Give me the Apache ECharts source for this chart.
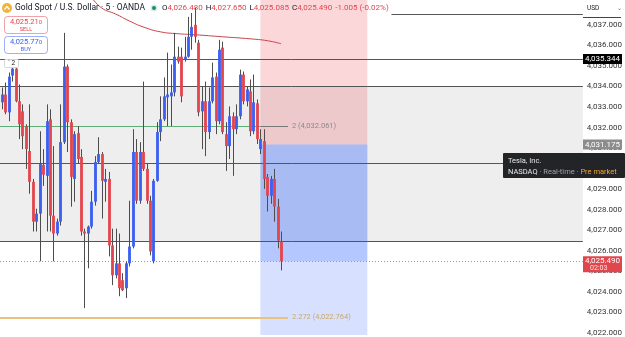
<!DOCTYPE html>
<html>
<head>
<meta charset="utf-8">
<title>Gold Spot / U.S. Dollar · 5 · OANDA</title>
<script src="https://cdn.jsdelivr.net/npm/echarts@6/dist/echarts.min.js"></script>
<style>
  html, body { margin: 0; padding: 0; background: #fff; }
  #chart { width: 625px; height: 337px; }
</style>
</head>
<body>
<div id="chart"></div>
<script>
// K 线数据 (5 分钟), 每根蜡烛按顺序
const openPrices = [
  4033.23, 4033.61, 4032.74, 4034.53, 4034.87, 4033.28, 4032.79, 4032.07, 4030.86, 4029.36,
  4027.42, 4027.81, 4030.18, 4029.65, 4032.40, 4027.71, 4026.84, 4027.42, 4031.29, 4034.97,
  4032.26, 4029.50, 4031.73, 4030.57, 4026.94, 4026.84, 4027.18, 4028.39, 4030.32, 4030.71,
  4029.36, 4029.50, 4026.26, 4024.81, 4025.39, 4024.57, 4024.18, 4025.39, 4026.21, 4030.81,
  4028.44, 4030.81, 4029.99, 4028.44, 4025.49, 4029.41, 4031.78, 4032.40, 4033.47, 4033.52,
  4033.71, 4035.45, 4035.45, 4035.31, 4035.45, 4036.42, 4037.00, 4036.13, 4032.79, 4033.28,
  4031.78, 4033.28, 4034.48, 4032.31, 4035.89, 4031.68, 4031.10, 4032.55, 4031.92, 4032.55,
  4034.58, 4033.28, 4033.76, 4031.82, 4033.18, 4030.95, 4031.34, 4029.60, 4028.68, 4029.50,
  4028.15, 4026.45
];
const closePrices = [
  4033.61, 4032.74, 4034.48, 4034.87, 4033.28, 4032.16, 4031.58, 4030.95, 4029.36, 4027.42,
  4027.81, 4030.23, 4029.70, 4032.31, 4027.71, 4026.84, 4027.42, 4031.29, 4034.97, 4032.26,
  4029.60, 4031.68, 4030.47, 4026.94, 4026.84, 4027.18, 4028.39, 4030.32, 4030.71, 4029.41,
  4029.50, 4026.26, 4024.81, 4025.39, 4024.18, 4024.08, 4025.39, 4026.21, 4030.81, 4028.44,
  4030.81, 4029.99, 4028.44, 4025.97, 4029.41, 4031.78, 4032.40, 4033.52, 4033.61, 4033.71,
  4035.45, 4035.21, 4033.52, 4035.45, 4036.42, 4036.90, 4036.42, 4032.74, 4033.28, 4031.78,
  4033.28, 4034.44, 4032.31, 4035.79, 4031.78, 4031.10, 4032.55, 4031.92, 4032.55, 4034.58,
  4033.28, 4033.86, 4031.82, 4033.23, 4031.44, 4031.44, 4029.50, 4028.68, 4029.50, 4028.15,
  4026.50, 4025.49
];
const lowPrices = [
  4032.89, 4032.65, 4032.31, 4034.24, 4033.23, 4031.44, 4030.95, 4029.99, 4028.78, 4026.94,
  4026.94, 4025.49, 4029.16, 4026.94, 4026.94, 4025.49, 4026.74, 4027.23, 4031.20, 4030.81,
  4028.15, 4028.39, 4030.23, 4026.74, 4023.21, 4025.15, 4027.08, 4028.20, 4030.23, 4027.57,
  4028.39, 4025.73, 4024.33, 4024.66, 4023.79, 4024.04, 4023.70, 4025.24, 4026.12, 4028.29,
  4028.29, 4029.89, 4028.29, 4025.78, 4025.39, 4029.36, 4031.34, 4032.31, 4032.07, 4032.07,
  4033.52, 4035.11, 4033.23, 4035.21, 4035.40, 4035.79, 4036.13, 4032.55, 4030.95, 4030.61,
  4031.44, 4033.18, 4031.68, 4032.16, 4031.68, 4029.89, 4030.47, 4029.65, 4031.68, 4032.40,
  4033.13, 4033.03, 4031.58, 4031.68, 4031.20, 4030.71, 4029.02, 4027.91, 4028.29, 4027.42,
  4026.12, 4025.05
];
const highPrices = [
  4033.95, 4034.19, 4034.68, 4034.97, 4034.92, 4034.10, 4033.13, 4032.16, 4033.13, 4029.50,
  4028.05, 4031.82, 4030.95, 4033.13, 4032.89, 4031.10, 4027.57, 4033.13, 4036.61, 4035.07,
  4032.40, 4031.82, 4032.07, 4030.95, 4027.08, 4027.23, 4028.92, 4030.61, 4031.53, 4030.81,
  4029.99, 4029.84, 4027.08, 4027.08, 4026.84, 4024.91, 4025.49, 4028.44, 4031.92, 4031.44,
  4031.29, 4034.24, 4030.23, 4028.68, 4029.50, 4032.26, 4033.52, 4034.44, 4035.65, 4035.07,
  4036.61, 4035.94, 4035.89, 4036.42, 4037.39, 4037.58, 4037.82, 4036.27, 4034.00, 4034.24,
  4033.95, 4035.16, 4034.68, 4036.27, 4036.18, 4032.26, 4033.03, 4032.74, 4033.13, 4034.82,
  4034.73, 4034.00, 4034.34, 4034.58, 4033.37, 4031.92, 4031.92, 4029.74, 4029.65, 4029.99,
  4028.53, 4026.94
];

// 价格轴刻度
const priceTicks = [4022, 4023, 4024, 4025, 4026, 4027, 4028, 4029, 4030, 4031, 4032, 4033, 4034, 4035, 4036, 4037];

// 均线 (按蜡烛序号取点)
const maSlots = [26, 29, 33, 37, 41, 46, 51, 56, 64, 72, 77, 81];
const maValues = [4038.35, 4037.82, 4037.53, 4037.19, 4036.90, 4036.66, 4036.57, 4036.52, 4036.42, 4036.32, 4036.23, 4036.08];

// 水平线与区域
const levelLines = [4035.344, 4034.0, 4030.25, 4026.48];
const rayLevel = 4037.53;
const bandTop = 4034.0;
const bandBottom = 4026.48;
const fibNames = ['2', '2.272'];
const fibPrices = [4032.061, 4022.764];

// 空单仓位工具
const entryPrice = 4031.175;
const lastPrice = 4025.49;
const positionSlots = [75, 106];

const axisMin = 4021.9;
const axisMax = 4038.21;
const slotCount = 169;

const RED = '#e2464d';
const BLUE = '#3b5ff0';
const FONT = 'Roboto, "Noto Sans", sans-serif';

const fmt = v => v.toLocaleString('en-US', { minimumFractionDigits: 3, maximumFractionDigits: 3 });

const candleData = openPrices.map((o, i) => [i, o, closePrices[i], lowPrices[i], highPrices[i]]);
const maData = maSlots.map((s, i) => [s, maValues[i]]);

const chart = echarts.init(document.getElementById('chart'));

const option = {
  animation: false,
  textStyle: { fontFamily: FONT },
  grid: { left: 0, right: 42, top: 0, bottom: 0 },
  xAxis: {
    type: 'value',
    min: -0.5,
    max: slotCount - 0.5,
    show: false
  },
  yAxis: {
    type: 'value',
    position: 'right',
    min: axisMin,
    max: axisMax,
    axisLine: { show: false },
    axisTick: { show: false },
    splitLine: { show: false },
    axisLabel: {
      customValues: priceTicks,
      margin: 4,
      fontSize: 8,
      color: '#333',
      formatter: v => fmt(v)
    }
  },
  series: [
    // 灰色区间
    {
      type: 'line',
      data: [],
      z: 1,
      markArea: {
        silent: true,
        itemStyle: { color: '#eeeeee' },
        data: [[{ yAxis: bandTop }, { yAxis: bandBottom }]]
      }
    },
    // 仓位: 止损 / 目标
    {
      type: 'line',
      data: [],
      z: 2,
      markArea: {
        silent: true,
        data: [
          [{ xAxis: positionSlots[0], yAxis: axisMax, itemStyle: { color: 'rgba(242,54,69,0.2)' } },
           { xAxis: positionSlots[1], yAxis: entryPrice }],
          [{ xAxis: positionSlots[0], yAxis: entryPrice, itemStyle: { color: 'rgba(41,98,255,0.19)' } },
           { xAxis: positionSlots[1], yAxis: axisMin }],
          [{ xAxis: positionSlots[0], yAxis: entryPrice, itemStyle: { color: 'rgba(41,98,255,0.2)' } },
           { xAxis: positionSlots[1], yAxis: lastPrice }]
        ]
      }
    },
    // 水平线
    {
      type: 'line',
      data: [],
      z: 3,
      markLine: {
        silent: true,
        symbol: 'none',
        lineStyle: { color: '#555', width: 1, type: 'solid' },
        label: { show: false },
        data: [
          ...levelLines.map(v => ({ yAxis: v })),
          [{ coord: [113, rayLevel] }, { coord: [slotCount - 0.5, rayLevel] }],
          {
            yAxis: lastPrice,
            lineStyle: { color: '#9a9a9a', type: [1, 2] }
          },
          [{ coord: [-0.5, fibPrices[0]], lineStyle: { color: '#5fae7a', width: 1 } },
           { coord: [positionSlots[0], fibPrices[0]] }],
          [{ coord: [positionSlots[0], fibPrices[0]], lineStyle: { color: '#777', width: 1 },
             label: { show: true, position: 'end', distance: 4, color: '#8a8a8a', fontSize: 7.5,
               formatter: fibNames[0] + ' (' + fmt(fibPrices[0]) + ')' } },
           { coord: [83, fibPrices[0]] }],
          [{ coord: [-0.5, fibPrices[1]], lineStyle: { color: '#e9c27e', width: 2 },
             label: { show: true, position: 'end', distance: 4, color: '#c9a76a', fontSize: 7.5,
               formatter: fibNames[1] + ' (' + fmt(fibPrices[1]) + ')' } },
           { coord: [83, fibPrices[1]] }]
        ]
      }
    },
    // 均线
    {
      type: 'line',
      data: maData,
      z: 4,
      smooth: true,
      symbol: 'none',
      lineStyle: { color: '#c8424a', width: 1 }
    },
    // 蜡烛
    {
      type: 'custom',
      z: 5,
      data: candleData,
      encode: { x: 0, y: [1, 2, 3, 4] },
      renderItem(params, api) {
        const i = api.value(0);
        const o = api.value(1);
        const c = api.value(2);
        const pO = api.coord([i, o]);
        const pC = api.coord([i, c]);
        const pL = api.coord([i, api.value(3)]);
        const pH = api.coord([i, api.value(4)]);
        const w = Math.max(1, api.size([1, 0])[0] * 0.82);
        const x = Math.round(pO[0]) + 0.5;
        const top = Math.min(pO[1], pC[1]);
        return {
          type: 'group',
          children: [
            {
              type: 'line',
              shape: { x1: x, y1: pH[1], x2: x, y2: pL[1] },
              style: { stroke: '#4d4d4d', lineWidth: 1 }
            },
            {
              type: 'rect',
              shape: { x: x - w / 2, y: top, width: w, height: Math.max(1, Math.abs(pO[1] - pC[1])) },
              style: { fill: c >= o ? BLUE : RED }
            }
          ]
        };
      }
    }
  ]
};

chart.setOption(option);

// 图形元素放在最上层
const layer = (children, z) => ({ type: 'group', children: children.map(c => Object.assign({ z }, c)) });

// 右侧价格标签
const py = v => chart.convertToPixel({ yAxisIndex: 0 }, v);

function priceTag(value, bg, fg, extra) {
  const y = py(value);
  const h = extra ? 16 : 10;
  const top = y - 5;
  const children = [
    { type: 'rect', shape: { x: 583, y: top, width: 39, height: h }, style: { fill: bg } },
    { type: 'text', x: 602.5, y: top + 5, style: { text: fmt(value), fill: fg, fontSize: 8, fontFamily: FONT, align: 'center', verticalAlign: 'middle' } }
  ];
  if (extra) {
    children.push({ type: 'text', x: 590, y: top + 12, style: { text: extra, fill: fg, fontSize: 7, fontFamily: FONT, verticalAlign: 'middle', opacity: 0.85 } });
  }
  return layer(children, 100);
}

chart.setOption({
  graphic: [
    // 标题
    layer([
      { type: 'circle', shape: { cx: 7, cy: 8, r: 5 }, style: { fill: '#efb43a' } },
      { type: 'polyline', shape: { points: [[4.5, 9.5], [7, 6.5], [9.5, 9.5]] }, style: { stroke: '#fff', lineWidth: 1.2, fill: null } },
      { type: 'text', x: 15, y: 8, style: { text: 'Gold Spot / U.S. Dollar · 5 · OANDA', fill: '#131722', fontSize: 8.5, fontFamily: FONT, verticalAlign: 'middle' } },
      { type: 'circle', shape: { cx: 154, cy: 8, r: 3.5 }, style: { fill: 'rgba(34,171,148,0.2)' } },
      { type: 'circle', shape: { cx: 154, cy: 8, r: 2 }, style: { fill: '#1e8c6e' } },
      {
        type: 'text', x: 162, y: 8,
        style: {
          text: '{k|O}{v|4,026.480} {k|H}{v|4,027.650} {k|L}{v|4,025.085} {k|C}{v|4,025.490} {v|-1.005 (-0.02%)}',
          verticalAlign: 'middle',
          fontFamily: FONT,
          rich: {
            k: { fill: '#131722', fontSize: 8, fontFamily: FONT },
            v: { fill: RED, fontSize: 8, fontFamily: FONT }
          }
        }
      }
    ], 100),
    // 卖出 / 买入
    layer([
      { type: 'rect', shape: { x: 4.5, y: 16.5, width: 43, height: 17, r: 3 }, style: { fill: '#fff', stroke: 'rgba(226,70,77,0.5)', lineWidth: 1 } },
      { type: 'text', x: 26, y: 22, style: { text: '4,025.21{s|0}', fill: RED, fontSize: 7.5, fontFamily: FONT, align: 'center', verticalAlign: 'middle', rich: { s: { fontSize: 6, fill: RED } } } },
      { type: 'text', x: 26, y: 29.5, style: { text: 'SELL', fill: RED, fontSize: 5.5, fontFamily: FONT, align: 'center', verticalAlign: 'middle' } },
      { type: 'rect', shape: { x: 4.5, y: 36.5, width: 43, height: 17, r: 3 }, style: { fill: '#fff', stroke: 'rgba(59,95,240,0.5)', lineWidth: 1 } },
      { type: 'text', x: 26, y: 42, style: { text: '4,025.77{s|0}', fill: BLUE, fontSize: 7.5, fontFamily: FONT, align: 'center', verticalAlign: 'middle', rich: { s: { fontSize: 6, fill: BLUE } } } },
      { type: 'text', x: 26, y: 49.5, style: { text: 'BUY', fill: BLUE, fontSize: 5.5, fontFamily: FONT, align: 'center', verticalAlign: 'middle' } },
      { type: 'rect', shape: { x: 4.5, y: 59.5, width: 14, height: 8, r: 1 }, style: { fill: '#fff', stroke: '#d6d6d6', lineWidth: 1 } },
      { type: 'text', x: 11.5, y: 63.5, style: { text: '˅ 2', fill: '#222', fontSize: 6.5, fontFamily: FONT, align: 'center', verticalAlign: 'middle' } }
    ], 100),
    // USD
    layer([
      { type: 'rect', shape: { x: 583, y: 0, width: 42, height: 17 }, style: { fill: '#fff' } },
      { type: 'text', x: 587, y: 8.5, style: { text: 'USD', fill: '#222', fontSize: 6.5, fontFamily: FONT, verticalAlign: 'middle' } },
      { type: 'text', x: 617, y: 8, style: { text: '⌄', fill: '#666', fontSize: 6, fontFamily: FONT, verticalAlign: 'middle' } },
      { type: 'line', shape: { x1: 583, y1: 17.5, x2: 621, y2: 17.5 }, style: { stroke: '#444', lineWidth: 1 } }
    ], 100),
    priceTag(4035.344, '#000', '#fff'),
    priceTag(entryPrice, '#8c8c8c', '#fff'),
    priceTag(lastPrice, RED, '#fff', '02:03'),
    // 提示框
    layer([
      { type: 'rect', shape: { x: 503, y: 153, width: 122, height: 25, r: 1 }, style: { fill: '#222427' } },
      { type: 'text', x: 508, y: 161, style: { text: 'Tesla, Inc.', fill: '#e6e6e6', fontSize: 7.5, fontFamily: FONT, verticalAlign: 'middle' } },
      {
        type: 'text', x: 508, y: 172,
        style: {
          text: '{a|NASDAQ}{b| · Real-time · }{c|Pre market}',
          verticalAlign: 'middle',
          rich: {
            a: { fill: '#e6e6e6', fontSize: 7.5, fontFamily: FONT },
            b: { fill: '#a0a0a0', fontSize: 7.5, fontFamily: FONT },
            c: { fill: '#f2a43a', fontSize: 7.5, fontFamily: FONT }
          }
        }
      }
    ], 110)
  ]
});

window.addEventListener('resize', () => chart.resize());
</script>
</body>
</html>
